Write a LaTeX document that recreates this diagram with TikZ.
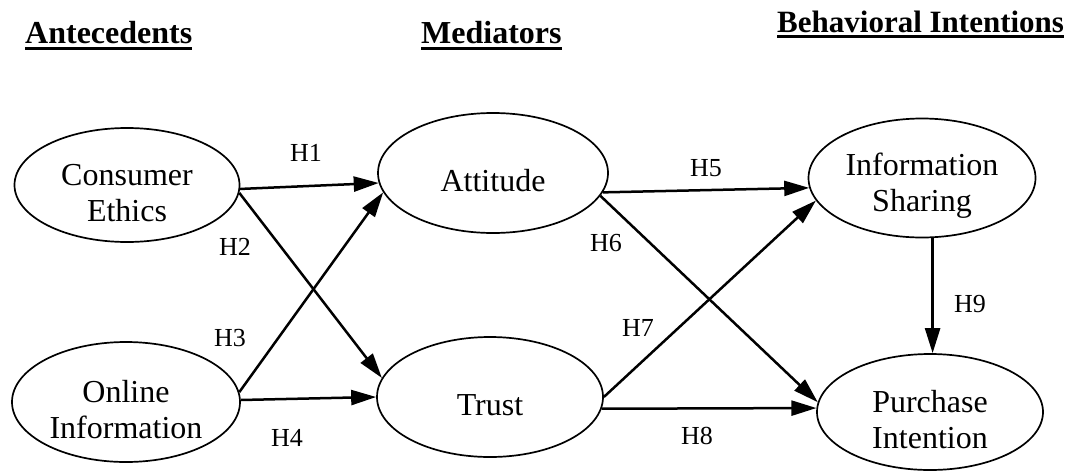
\documentclass[tikz,border=0pt]{standalone}
\usepackage{fontspec}
\setmainfont{Liberation Serif}
\usetikzlibrary{arrows.meta,shapes.geometric,calc}
\begin{document}
\begin{tikzpicture}[x=1pt,y=-1pt,
  ell/.style={draw, ellipse, line width=1.7pt, inner sep=0pt},
  etext/.style={align=center, font=\fontsize{32}{36}\selectfont, yshift=-8pt},
  hlab/.style={font=\fontsize{26}{30}\selectfont, inner sep=0pt},
  head/.style={font=\fontsize{32}{36}\selectfont\bfseries, anchor=base west, inner sep=0pt},
  uline/.style={line width=3pt},
  arr/.style={line width=2.5pt, -{Triangle[length=25pt,width=15pt]}}]
\useasboundingbox (0,0) rectangle (1081,472);

% headings
\node[head] (hA) at (25,43) {Antecedents};
\node[head] (hM) at (421,43) {Mediators};
\node[head, font=\fontsize{31}{36}\selectfont\bfseries] (hB) at (777,32) {Behavioral Intentions};
\draw[uline] ($(hA.base west)+(0,5)$) -- ($(hA.base east)+(0,5)$);
\draw[uline] ($(hM.base west)+(0,5)$) -- ($(hM.base east)+(0,5)$);
\draw[uline] ($(hB.base west)+(0,4)$) -- ($(hB.base east)+(0,4)$);

% ellipses
\node[ell, minimum width=225pt, minimum height=114pt,
      label={[etext]center:Consumer\\Ethics}] (ce) at (127,185) {};
\node[ell, minimum width=228pt, minimum height=120pt,
      label={[etext]center:Online\\Information}] (oi) at (126,402) {};
\node[ell, minimum width=230pt, minimum height=120pt,
      label={[etext]center:Attitude}] (att) at (493,173) {};
\node[ell, minimum width=226pt, minimum height=120pt,
      label={[etext]center:Trust}] (tr) at (490,397) {};
\node[ell, minimum width=227pt, minimum height=119pt,
      label={[etext]center:Information\\Sharing}] (is) at (922,178) {};
\node[ell, minimum width=226pt, minimum height=116pt,
      label={[etext]center:Purchase\\Intention}] (pi) at (930,412) {};

% arrows
\draw[arr] (ce.-2) -- (att.185);
\draw[arr] (ce.-4) -- (tr.170);
\draw[arr] (oi.5) -- (att.190);
\draw[arr] (oi.1) -- (tr.west);
\draw[arr] (att.-10) -- (is.185);
\draw[arr] (att.-12) -- (pi.175);
\draw[arr] (tr.east) -- (is.192);
\draw[arr] (tr.-6) -- (pi.178);
\draw[arr] (is.-80) -- (is.-80 |- pi.north);

% labels
\node[hlab] (l1) at (306,153) {H1};
\node[hlab] (l2) at (235,247) {H2};
\node[hlab] (l3) at (230,338) {H3};
\node[hlab] (l4) at (287,438) {H4};
\node[hlab] (l5) at (706,168) {H5};
\node[hlab] (l6) at (606,243) {H6};
\node[hlab] (l7) at (638,328) {H7};
\node[hlab] (l8) at (697,436) {H8};
\node[hlab] (l9) at (970,304) {H9};
\end{tikzpicture}
\end{document}
